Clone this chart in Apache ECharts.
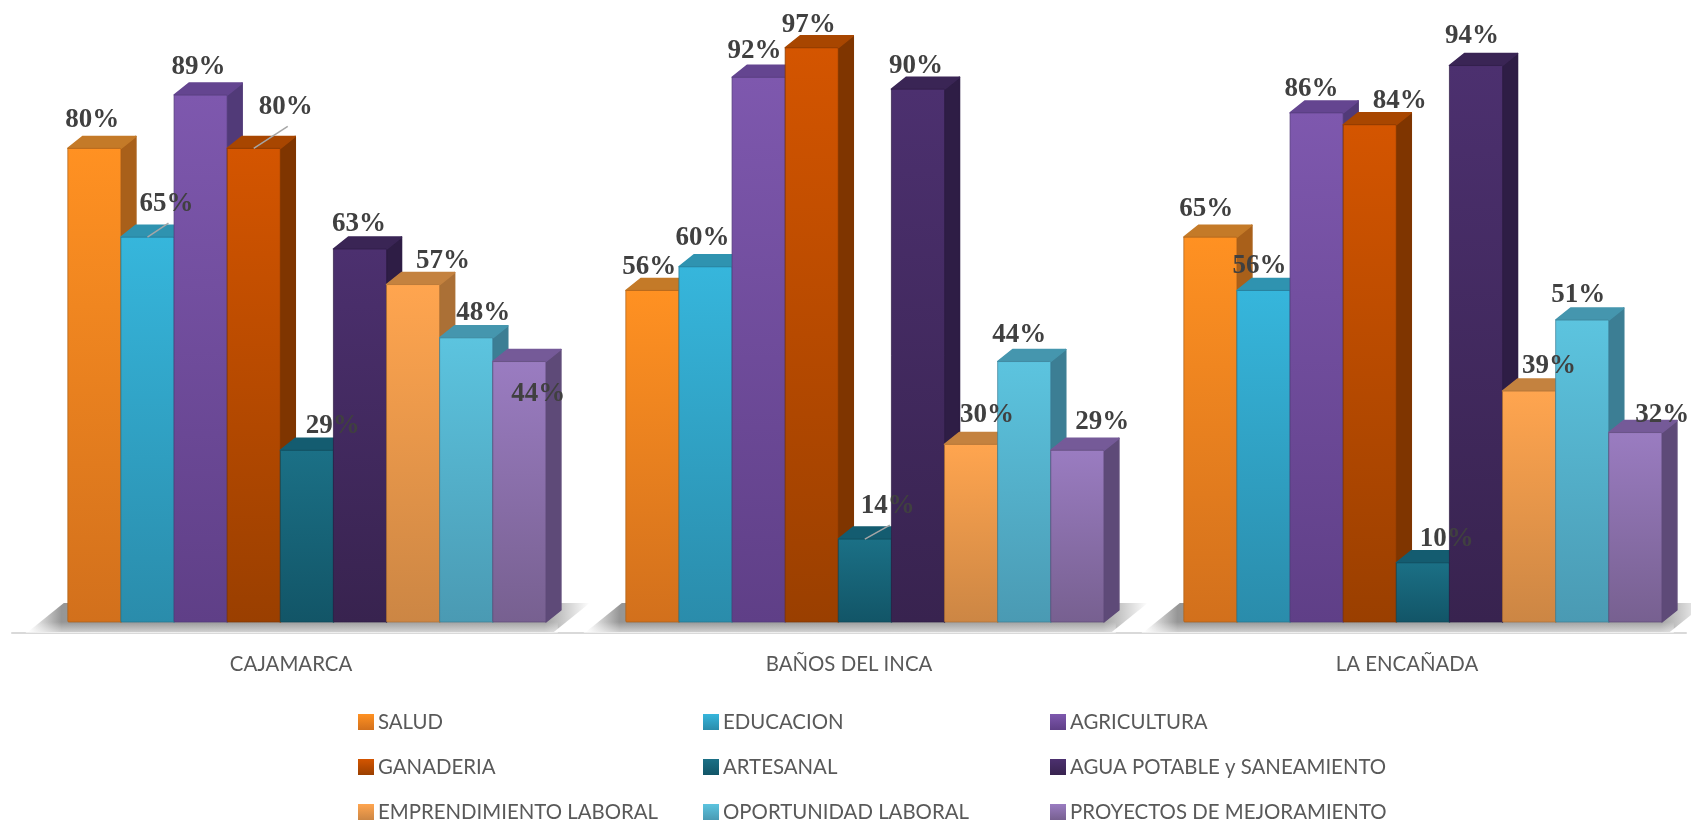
<!DOCTYPE html>
<html>
<head>
<meta charset="utf-8">
<style>
* { margin: 0; padding: 0; }
html, body { background: #fff; }
</style>
</head>
<body>
<div id="main" style="width: 1691px;height: 822px;"></div>
<script src="https://cdn.jsdelivr.net/npm/echarts@6/dist/echarts.min.js"></script>
<script>
const categories = ["CAJAMARCA", "BAÑOS DEL INCA", "LA ENCAÑADA"];
const seriesNames = [
  "SALUD", "EDUCACION", "AGRICULTURA",
  "GANADERIA", "ARTESANAL", "AGUA POTABLE y SANEAMIENTO",
  "EMPRENDIMIENTO LABORAL", "OPORTUNIDAD LABORAL", "PROYECTOS DE MEJORAMIENTO"
];
const salud = [80, 56, 65];
const educacion = [65, 60, 56];
const agricultura = [89, 92, 86];
const ganaderia = [80, 97, 84];
const artesanal = [29, 14, 10];
const agua = [63, 90, 94];
const emprendimiento = [57, 30, 39];
const oportunidad = [48, 44, 51];
const proyectos = [44, 29, 32];
const allValues = [salud, educacion, agricultura, ganaderia, artesanal, agua, emprendimiento, oportunidad, proyectos];

// front top, front bottom, side, roof
const palette = [
  ["#ff9122", "#d2701c", "#a9601a", "#c47a28"],
  ["#36b6dc", "#2a8cab", "#24758f", "#2f93b0"],
  ["#7e58ae", "#5f3f87", "#513a78", "#644590"],
  ["#d45500", "#9a3f00", "#7f3500", "#a84600"],
  ["#1b7086", "#125567", "#0f4656", "#145c70"],
  ["#4c306f", "#38234f", "#2e1d45", "#3a2555"],
  ["#ffa54f", "#cc8644", "#ab7036", "#c4823f"],
  ["#5cc4df", "#4a9ab3", "#3c7e94", "#4596ae"],
  ["#9a7cc1", "#776090", "#5e4a78", "#755a98"]
];

// label shift from the top centre of the bar, px: one row per series, one pair per place
const labelNudge = [
  [[-2, -28], [-3, -23], [-4, -28]],
  [[19, -33], [-3, -29], [-4, -24]],
  [[-2, -28], [-4, -26], [-5, -24]],
  [[32, -41], [-3, -23], [30, -24]],
  [[26, -24], [23, -33], [24, -24]],
  [[-1, -25], [-2, -23], [-4, -29]],
  [[30, -24], [16, -29], [20, -25]],
  [[17, -25], [-5, -26], [-4, -25]],
  [[19, 33], [25, -28], [27, -18]]
];
const leaders = ["1-0", "3-0", "4-1"];

const BAR_W = 0.0952; // share of the band
const BAR_START = -0.4;
const DEPTH_X = 15;
const DEPTH_Y = 12;

function barGeometry(api, cat, idx, val) {
  let band = api.size([1, 0])[0];
  let top = api.coord([cat, val]);
  let base = api.coord([cat, 0]);
  let w = band * BAR_W;
  let x = top[0] + band * BAR_START + idx * w;
  return { x: x, w: w, top: top[1], base: base[1] };
}

function renderBar(idx) {
  return function(params, api) {
    let g = barGeometry(api, api.value(0), idx, api.value(1));
    let c = palette[idx];
    return {
      type: "group",
      children: [
        {
          type: "polygon",
          shape: { points: [[g.x + g.w, g.top], [g.x + g.w + DEPTH_X, g.top - DEPTH_Y], [g.x + g.w + DEPTH_X, g.base - DEPTH_Y], [g.x + g.w, g.base]] },
          style: { fill: c[2], stroke: c[2], lineWidth: 1.5, lineJoin: "round" }
        },
        {
          type: "polygon",
          shape: { points: [[g.x, g.top], [g.x + DEPTH_X, g.top - DEPTH_Y], [g.x + g.w + DEPTH_X, g.top - DEPTH_Y], [g.x + g.w, g.top]] },
          style: { fill: c[3], stroke: c[3], lineWidth: 1.5, lineJoin: "round" }
        },
        {
          type: "rect",
          shape: { x: g.x, y: g.top, width: g.w, height: g.base - g.top, r: 1 },
          style: {
            fill: new echarts.graphic.LinearGradient(0, 0, 0, 1, [
              { offset: 0, color: c[0] },
              { offset: 1, color: c[1] }
            ]),
            stroke: c[2],
            strokeOpacity: 0.7,
            lineWidth: 1
          }
        }
      ]
    };
  };
}

function renderLabel(params, api) {
  let cat = api.value(0);
  let idx = api.value(1);
  let val = api.value(2);
  let g = barGeometry(api, cat, idx, val);
  let cx = g.x + g.w / 2;
  let nudge = labelNudge[idx][cat];
  let children = [];
  if (leaders.indexOf(idx + "-" + cat) >= 0) {
    children.push({
      type: "line",
      shape: { x1: cx, y1: g.top, x2: cx + nudge[0] + 2, y2: g.top + nudge[1] + 19 },
      style: { stroke: "#a6a6a6", lineWidth: 1.5 }
    });
  }
  children.push({
    type: "text",
    x: cx + nudge[0],
    y: g.top + nudge[1],
    style: {
      text: val + "%",
      fill: "#404040",
      font: "bold 27px 'Liberation Serif'",
      align: "center",
      verticalAlign: "middle"
    }
  });
  return { type: "group", children: children };
}

function renderShadow(params, api) {
  let g = barGeometry(api, api.value(0), 0, 0);
  let x = g.x;
  return {
    type: "group",
    children: [
      {
        type: "polygon",
        shape: { points: [[x - 40, g.base + 10], [x - 4, g.base - 19], [x + 522, g.base - 19], [x + 486, g.base + 10]] },
        style: {
          fill: new echarts.graphic.LinearGradient(0, 0, 1, 0, [
            { offset: 0, color: "#ffffff" },
            { offset: 0.06, color: "#969696" },
            { offset: 0.92, color: "#a4a4a4" },
            { offset: 1, color: "#ffffff" }
          ])
        }
      },
      {
        type: "rect",
        shape: { x: x - 42, y: g.base, width: 532, height: 11 },
        style: {
          fill: new echarts.graphic.LinearGradient(0, 0, 0, 1, [
            { offset: 0, color: "rgba(255,255,255,0)" },
            { offset: 1, color: "rgba(255,255,255,0.6)" }
          ])
        }
      }
    ]
  };
}

let series = [{
  name: "shadow",
  type: "custom",
  renderItem: renderShadow,
  data: categories.map((c, i) => [i]),
  encode: { x: 0 },
  silent: true,
  z: 1
}];
seriesNames.forEach((name, idx) => {
  series.push({
    name: name,
    type: "custom",
    renderItem: renderBar(idx),
    data: allValues[idx].map((v, i) => [i, v]),
    encode: { x: 0, y: 1 },
    itemStyle: {
      color: new echarts.graphic.LinearGradient(0, 0, 0, 1, [
        { offset: 0, color: palette[idx][0] },
        { offset: 1, color: palette[idx][1] }
      ])
    },
    clip: false,
    z: 2
  });
});
let labelRows = [];
allValues.forEach((vals, idx) => vals.forEach((v, i) => labelRows.push([i, idx, v])));
series.push({
  name: "labels",
  type: "custom",
  renderItem: renderLabel,
  data: labelRows,
  encode: { x: 0, y: 2 },
  silent: true,
  clip: false,
  z: 5
});

function legendColumn(left, names) {
  return {
    orient: "vertical",
    left: left,
    top: 712,
    height: 300,
    padding: 0,
    itemWidth: 16,
    itemHeight: 16,
    itemGap: 25,
    icon: "rect",
    data: names,
    selectedMode: false,
    textStyle: { color: "#595959", fontFamily: "Lato", fontSize: 20.4, padding: [0, 0, 0, -1] }
  };
}

let chart = echarts.init(document.getElementById("main"), null, { renderer: "canvas" });
chart.setOption({
  animation: false,
  backgroundColor: "#fff",
  grid: { left: 12, width: 1674, top: 30, height: 592 },
  xAxis: {
    type: "category",
    data: categories,
    offset: 11,
    axisLine: { onZero: false, lineStyle: { color: "#d9d9d9", width: 2 } },
    axisTick: { show: false },
    axisLabel: { color: "#595959", fontFamily: "Lato", fontSize: 20.4, margin: 21 }
  },
  yAxis: { type: "value", min: 0, max: 100, show: false },
  legend: [
    legendColumn(358, [seriesNames[0], seriesNames[3], seriesNames[6]]),
    legendColumn(703, [seriesNames[1], seriesNames[4], seriesNames[7]]),
    legendColumn(1050, [seriesNames[2], seriesNames[5], seriesNames[8]])
  ],
  series: series
});
</script>
</body>
</html>
